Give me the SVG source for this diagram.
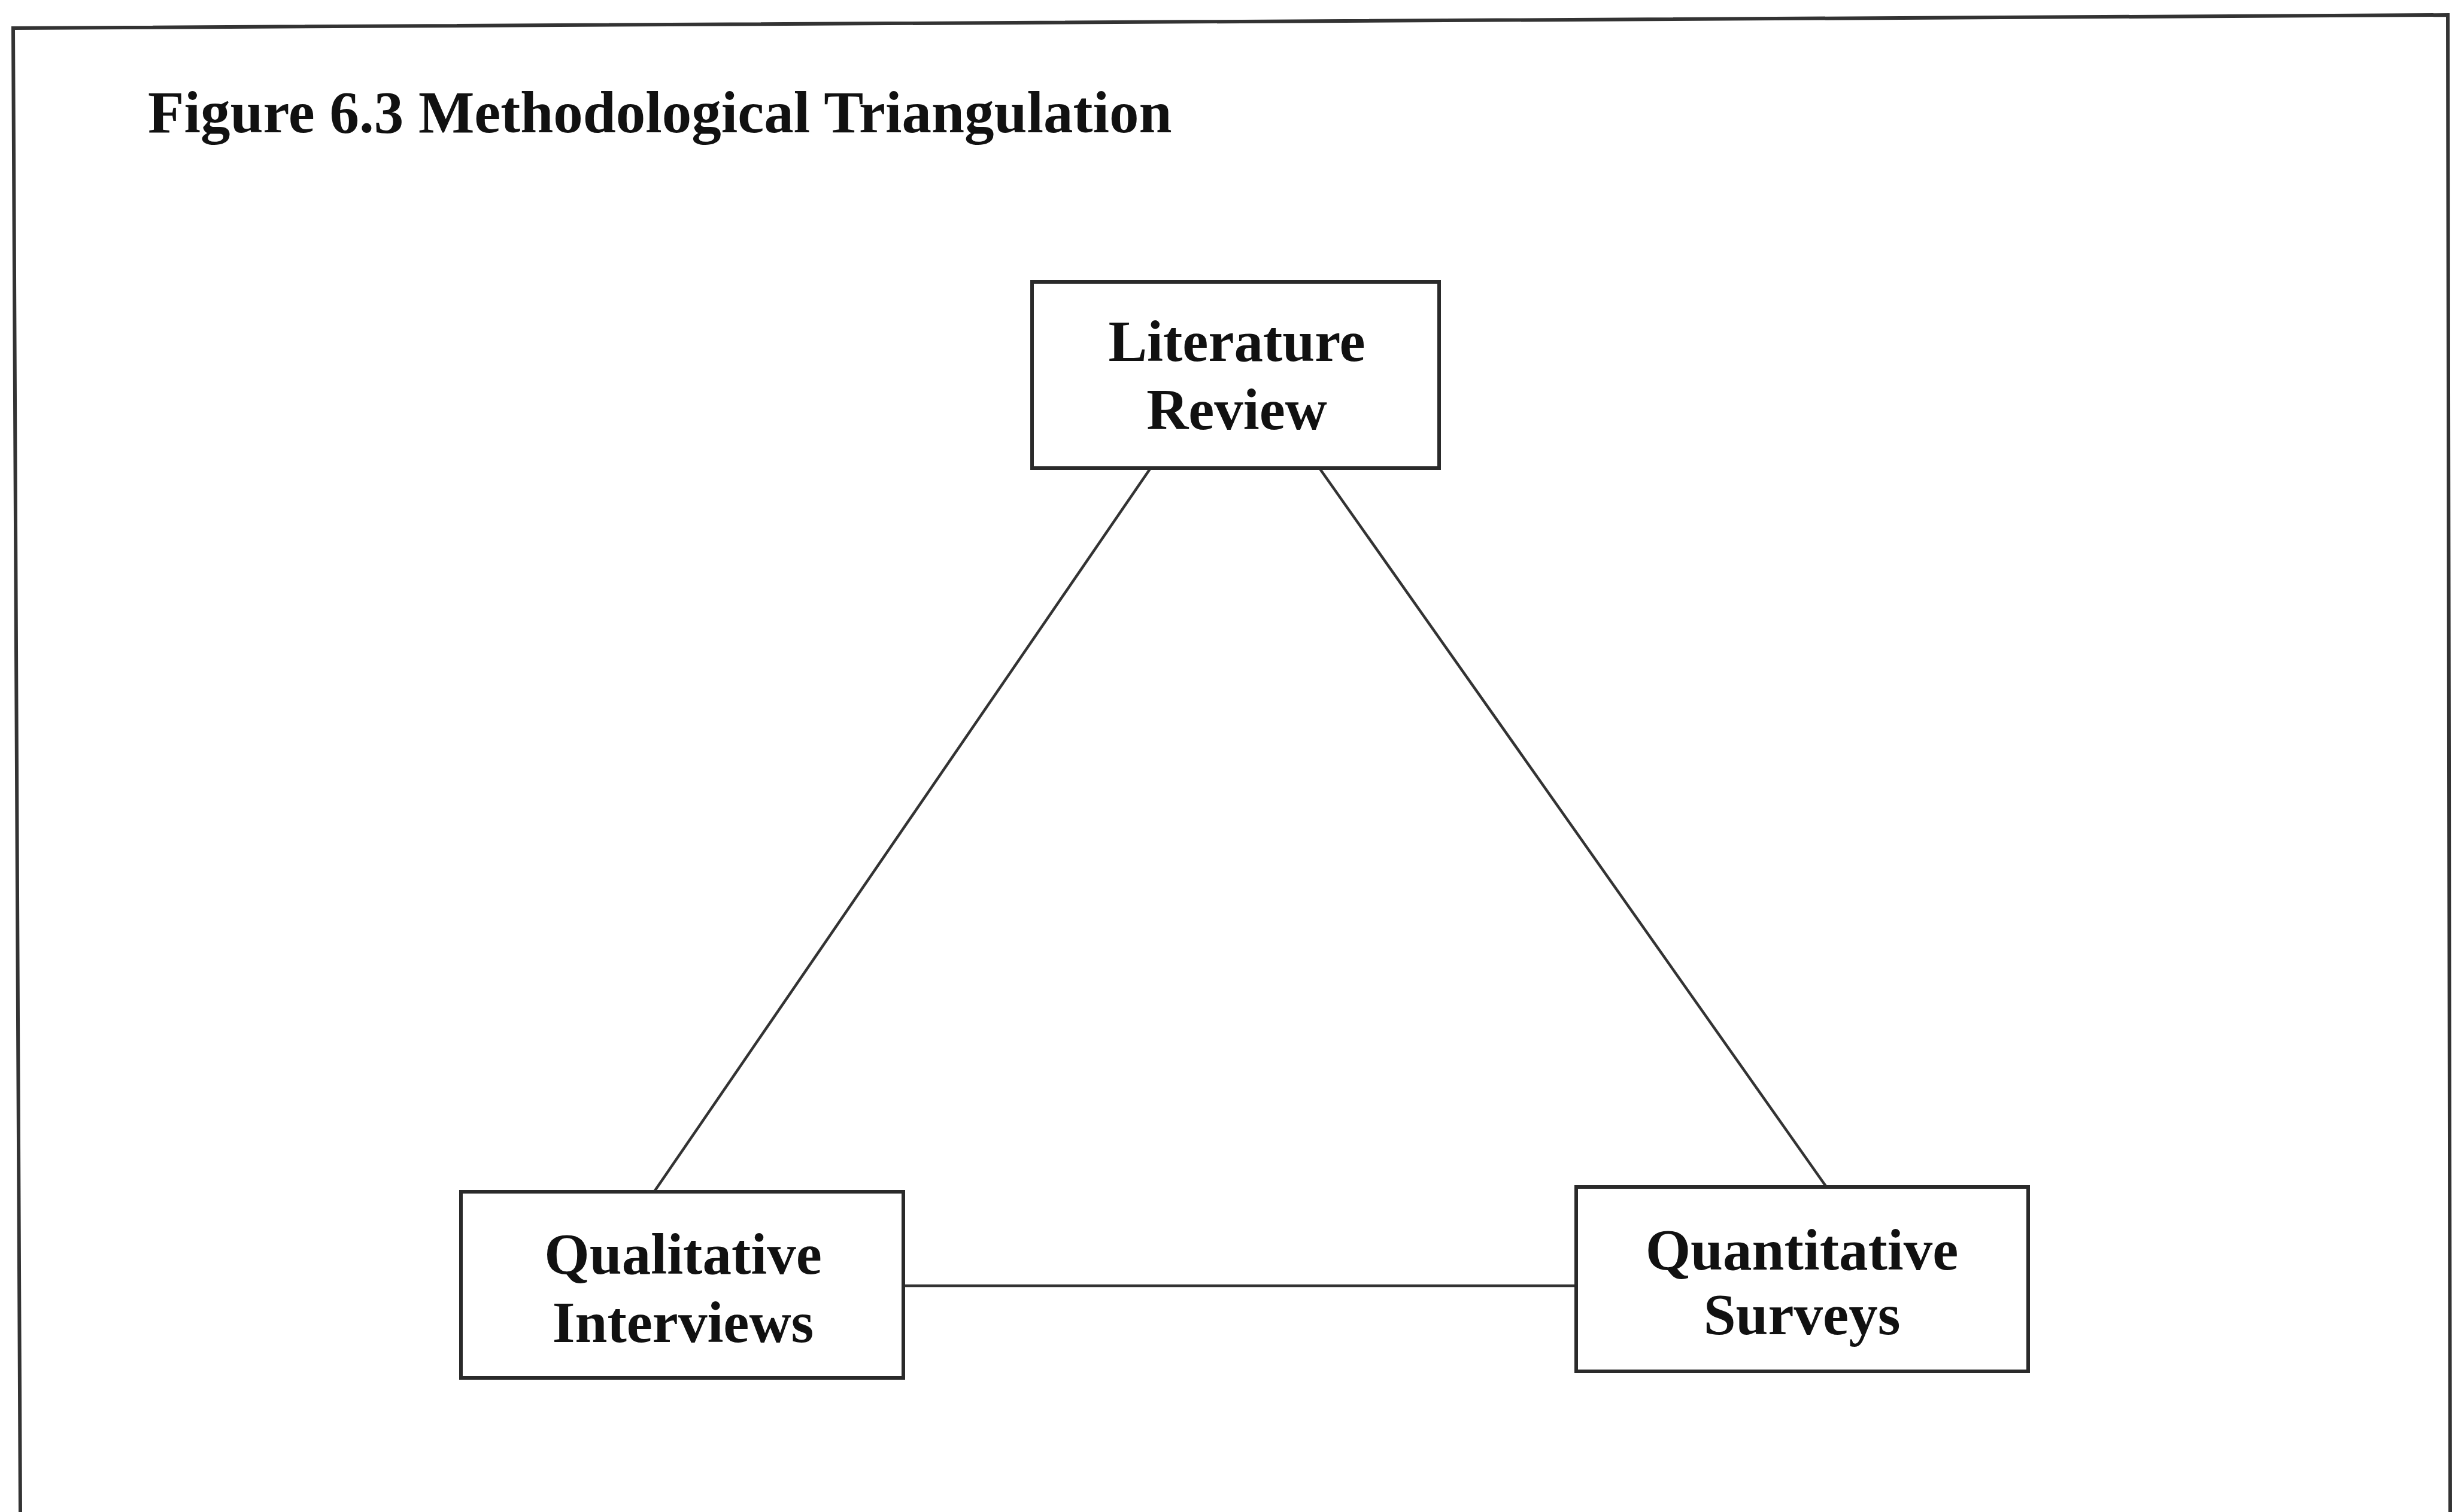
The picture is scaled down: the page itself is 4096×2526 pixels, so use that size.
<svg xmlns="http://www.w3.org/2000/svg" width="4096" height="2526" viewBox="0 0 4096 2526">
  <style>
    .frame { fill: none; stroke: #333; stroke-width: 6; }
    .box { fill: #fff; stroke: #2a2a2a; stroke-width: 6; }
    .link { fill: none; stroke: #333; stroke-width: 4.5; }
    .title { font-family: "Liberation Serif", "Times New Roman", serif; font-weight: bold; font-size: 99px; fill: #111; }
    .label { font-family: "Liberation Serif", "Times New Roman", serif; font-weight: bold; font-size: 97px; fill: #111; text-anchor: middle; }
  </style>

  <rect width="4096" height="2526" fill="#fff"/>

  <!-- page frame -->
  <path class="frame" d="M34 2530 L22 47 L4089 25 L4093 2530"/>

  <text class="title" x="247" y="221">Figure 6.3 Methodological Triangulation</text>

  <!-- connectors -->
  <g id="connectors">
    <line class="link" x1="1922" y1="782" x2="1092" y2="1992"/>
    <line class="link" x1="2204" y1="782" x2="3051" y2="1983"/>
    <line class="link" x1="1509" y1="2148" x2="2633" y2="2148"/>
  </g>

  <g id="literature-review">
    <rect class="box" x="1724" y="471" width="680" height="311"/>
    <text class="label" x="2066" y="603">Literature</text>
    <text class="label" x="2066" y="717">Review</text>
  </g>

  <g id="qualitative-interviews">
    <rect class="box" x="770" y="1991" width="739" height="311"/>
    <text class="label" x="1141" y="2128">Qualitative</text>
    <text class="label" x="1141" y="2242">Interviews</text>
  </g>

  <g id="quantitative-surveys">
    <rect class="box" x="2633" y="1983" width="755" height="308"/>
    <text class="label" x="3010" y="2121">Quantitative</text>
    <text class="label" x="3010" y="2229">Surveys</text>
  </g>
</svg>
